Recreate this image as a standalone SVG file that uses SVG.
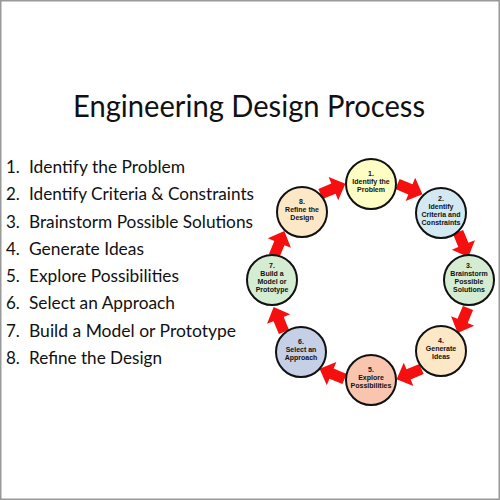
<svg xmlns="http://www.w3.org/2000/svg" width="500" height="500" viewBox="0 0 500 500">
<style>
.title{font-family:Lato,"Liberation Sans",sans-serif;font-size:31px;fill:#111}
.item{font-family:Lato,"Liberation Sans",sans-serif;font-size:17px;fill:#111}
.node circle{stroke:#111;stroke-width:2}
.node text{font-family:"Liberation Sans Narrow","Liberation Sans",sans-serif;font-weight:bold;font-size:7px;fill:#111;text-anchor:middle}
.arrow{fill:#f50f0f}
</style>
<defs>
<polygon id="arr" points="-13,-5.5 1,-5.5 1,-12.5 14,0 1,12.5 1,5.5 -13,5.5"/>
</defs>
<rect x="0.75" y="0.75" width="498.5" height="498.5" fill="#fff" stroke="#999" stroke-width="1.5"/>
<text class="title" x="73" y="117" textLength="352" lengthAdjust="spacingAndGlyphs">Engineering Design Process</text>
<g id="list">
<text class="item" x="6" y="173">1.</text><text class="item" x="29" y="173" textLength="156" lengthAdjust="spacingAndGlyphs">Identify the Problem</text>
<text class="item" x="6" y="200">2.</text><text class="item" x="29" y="200" textLength="225" lengthAdjust="spacingAndGlyphs">Identify Criteria &amp; Constraints</text>
<text class="item" x="6" y="228">3.</text><text class="item" x="29" y="228" textLength="224" lengthAdjust="spacingAndGlyphs">Brainstorm Possible Solutions</text>
<text class="item" x="6" y="255">4.</text><text class="item" x="29" y="255" textLength="115" lengthAdjust="spacingAndGlyphs">Generate Ideas</text>
<text class="item" x="6" y="282">5.</text><text class="item" x="29" y="282" textLength="150" lengthAdjust="spacingAndGlyphs">Explore Possibilities</text>
<text class="item" x="6" y="309">6.</text><text class="item" x="29" y="309" textLength="146" lengthAdjust="spacingAndGlyphs">Select an Approach</text>
<text class="item" x="6" y="337">7.</text><text class="item" x="29" y="337" textLength="207" lengthAdjust="spacingAndGlyphs">Build a Model or Prototype</text>
<text class="item" x="6" y="364">8.</text><text class="item" x="29" y="364" textLength="133" lengthAdjust="spacingAndGlyphs">Refine the Design</text>
</g>
<g id="connectors">
<use href="#arr" class="arrow" transform="translate(409.5,189) rotate(22.5)"/>
<use href="#arr" class="arrow" transform="translate(463,244) rotate(67.5)"/>
<use href="#arr" class="arrow" transform="translate(463,320) rotate(112.5)"/>
<use href="#arr" class="arrow" transform="translate(409.5,374) rotate(157.5)"/>
<use href="#arr" class="arrow" transform="translate(332.5,374) rotate(202.5)"/>
<use href="#arr" class="arrow" transform="translate(279,320) rotate(247.5)"/>
<use href="#arr" class="arrow" transform="translate(279,244) rotate(292.5)"/>
<use href="#arr" class="arrow" transform="translate(332.5,189) rotate(337.5)"/>
</g>
<g id="n1" class="node"><circle cx="371" cy="184" r="25" fill="#fefdc4"/>
<text x="371" y="176">1.</text><text x="371" y="184">Identify the</text><text x="371" y="192">Problem</text></g>
<g id="n2" class="node"><circle cx="441" cy="213" r="25" fill="#d2e9f3"/>
<text x="441" y="201">2.</text><text x="441" y="209">Identify</text><text x="441" y="217">Criteria and</text><text x="441" y="225">Constraints</text></g>
<g id="n3" class="node"><circle cx="469" cy="280" r="25" fill="#d4ecd1"/>
<text x="469" y="268">3.</text><text x="469" y="276">Brainstorm</text><text x="469" y="284">Possible</text><text x="469" y="292">Solutions</text></g>
<g id="n4" class="node"><circle cx="441" cy="351" r="25" fill="#fce8c6"/>
<text x="441" y="343">4.</text><text x="441" y="351">Generate</text><text x="441" y="359">Ideas</text></g>
<g id="n5" class="node"><circle cx="371" cy="380" r="25" fill="#f9c5ae"/>
<text x="371" y="372">5.</text><text x="371" y="380">Explore</text><text x="371" y="388">Possibilities</text></g>
<g id="n6" class="node"><circle cx="301" cy="352" r="25" fill="#c5cfe6"/>
<text x="301" y="344">6.</text><text x="301" y="352">Select an</text><text x="301" y="360">Approach</text></g>
<g id="n7" class="node"><circle cx="272" cy="280" r="25" fill="#d4ecd1"/>
<text x="272" y="268">7.</text><text x="272" y="276">Build a</text><text x="272" y="284">Model or</text><text x="272" y="292">Prototype</text></g>
<g id="n8" class="node"><circle cx="302" cy="212" r="25" fill="#fce8c6"/>
<text x="302" y="204">8.</text><text x="302" y="212">Refine the</text><text x="302" y="220">Design</text></g>
</svg>
